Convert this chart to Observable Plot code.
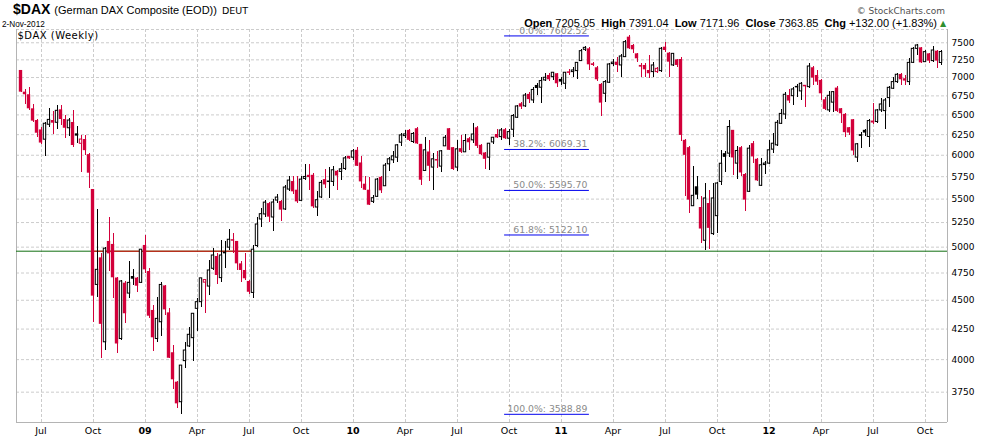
<!DOCTYPE html>
<html><head><meta charset="utf-8">
<script src="https://cdn.jsdelivr.net/npm/d3@7"></script>
<script src="https://cdn.jsdelivr.net/npm/@observablehq/plot@0.6"></script>
<style>
body{margin:0;background:#fff;}
#chart{width:990px;height:438px;overflow:hidden;}
</style></head><body>
<div id="chart"></div>
<script>
// ---- data (weekly bars, week of Monday) ----
const weekStart = "2008-06-02";
const open = [7099,6800,6765,6579,6428,6309,6188,6374,6428,6399,6566,6441,6330,6403,6260,6138,6190,6007,5606,4639,
4895,4140,5057,5027,4703,4167,4655,4560,4717,4702,4658,5017,4764,4410,4167,4308,4630,4389,4055,3825,
3676,3988,4106,4174,4424,4483,4660,4624,4790,4908,4702,4951,4995,5074,5057,4837,4774,4671,4566,5011,
5282,5335,5451,5303,5484,5474,5388,5605,5695,5598,5481,5725,5766,5766,5409,5518,5717,5698,5691,5812,
5805,5839,5987,5971,6059,5909,5665,5598,5470,5525,5743,5642,5893,5940,5971,6151,6232,6303,6160,6324,
6131,5816,6039,5855,5945,5866,6107,6324,6091,5855,6079,6035,6200,6180,6336,6119,6027,5971,6155,6252,
6220,6311,6200,6311,6463,6645,6611,6770,6689,6891,6860,6960,7029,7006,7053,6974,6914,7076,7076,7090,
7232,7396,7410,7193,7137,6905,6778,6928,7193,7217,7170,7289,7584,7460,7337,7170,7170,7099,7076,7076,
7090,7435,7347,7170,7250,7255,6180,6091,5423,5636,5409,5064,5452,5131,5317,5691,6019,6019,6304,5901,
6091,5775,5580,6140,5952,5647,5888,5901,6067,6119,6386,6505,6755,6746,6877,6810,6890,6868,7137,7029,
6960,6698,6558,6660,6855,6580,6507,6337,6438,5972,6250,6304,6221,6421,6409,6558,6549,6720,6846,6937,
7043,6983,6937,7207,7410,7425,7217,7337,7232,7376,7205.05];
const high = [7105,6836,6858,6635,6437,6337,6408,6579,6544,6622,6622,6492,6450,6557,6352,6240,6240,6024,5610,5388,
4934,5000,5307,5141,4710,4680,4670,4855,4780,4710,4980,5118,4790,4454,4527,4658,4635,4430,4113,3830,
3953,4141,4261,4381,4518,4700,4690,4870,4985,4934,5067,5057,5174,5141,5060,4855,4934,4680,5017,5307,
5402,5480,5460,5495,5554,5480,5654,5758,5754,5754,5754,5893,5893,5785,5580,5710,5832,5851,5862,5816,
5901,5987,5990,6071,6091,5987,5747,5740,5543,5732,5747,5901,5979,6039,6131,6262,6300,6320,6280,6340,
6135,6212,6180,6019,6050,6059,6240,6330,6095,6180,6240,6252,6220,6387,6353,6131,6027,6147,6220,6311,
6324,6332,6311,6506,6623,6667,6778,6800,6868,6914,7006,7053,7060,7076,7062,7006,7076,7108,7140,7217,
7396,7445,7430,7217,7155,6914,6960,7203,7260,7289,7328,7534,7602.52,7475,7347,7193,7193,7313,7217,7146,
7435,7509,7362,7347,7260,7289,6188,6099,5870,5748,5525,5673,5591,5673,5680,6059,6040,6430,6304,6099,
6100,5786,6120,6168,5960,5960,5930,6179,6261,6429,6565,6790,6832,6868,6900,6937,6890,7193,7155,7099,
6970,6733,6814,6814,6877,6580,6515,6345,6438,6140,6275,6312,6438,6654,6571,6711,6711,6877,7006,7062,
7053,7029,7265,7425,7475,7435,7386,7347,7445,7386,7391.04];
const low = [6790,6631,6557,6408,6219,6130,5991,6336,6252,6309,6365,6207,6232,6096,6138,5802,5995,5613,4309,4521,
4006,4073,4760,4518,4052,4155,4295,4518,4633,4572,4650,4743,4337,4068,4141,4190,4366,4011,3768,3632,
3589,3928,4100,3988,4228,4439,4386,4540,4774,4641,4665,4796,4971,4934,4774,4665,4680,4548,4518,5000,
5200,5300,5250,5155,5452,5258,5381,5580,5554,5452,5470,5710,5598,5398,5310,5507,5617,5507,5635,5598,
5710,5816,5948,5940,5862,5617,5591,5427,5452,5518,5561,5635,5805,5901,5920,6099,6200,6170,6140,6130,
5654,5805,5691,5598,5850,5793,6099,6055,5824,5805,6019,6027,6051,6147,6079,5995,5832,5824,6127,6200,
6180,6188,6119,6220,6450,6570,6602,6650,6645,6750,6654,6940,6940,6960,6868,6890,6832,7030,7000,6970,
7222,7376,7099,7155,6951,6480,6667,6914,7150,7076,7006,7280,7396,7337,7217,7006,7006,6983,7006,7053,
7076,7362,7006,7155,7140,6160,5525,5346,5416,5500,5038,4966,4972,5121,5138,5647,5800,5968,5760,5718,
5750,5363,5568,5900,5692,5636,5770,5893,6019,6110,6380,6440,6645,6624,6733,6689,6602,6846,6891,6891,
6689,6558,6537,6537,6537,6388,6221,6241,5999,5909,6079,6229,6091,6379,6388,6537,6316,6593,6832,6914,
6891,6891,6891,7193,7313,7193,7207,7193,7217,7122,7171.96];
const close = [6800,6765,6579,6420,6268,6147,6387,6436,6394,6553,6441,6330,6428,6117,6232,6190,6055,5790,4537,4780,
4290,4985,4934,4705,4126,4671,4381,4658,4692,4627,4975,4780,4360,4177,4337,4639,4415,4011,3843,3664,
3953,4073,4202,4381,4483,4700,4684,4774,4918,4727,4918,4934,5074,5060,4837,4774,4696,4572,4975,5230,
5338,5462,5307,5463,5517,5381,5628,5706,5580,5470,5717,5747,5740,5416,5488,5680,5657,5687,5824,5758,
5835,5963,5956,6047,5870,5691,5598,5434,5510,5717,5591,5878,5952,5987,6119,6241,6253,6180,6259,6136,
5710,6059,5870,5952,5935,6047,6212,6059,5832,6071,6035,6172,6151,6252,6107,6007,5952,6139,6212,6210,
6303,6200,6282,6485,6610,6601,6755,6700,6830,6849,6951,6997,6969,7067,6914,6937,7067,7062,7099,7207,
7376,7425,7179,7170,6969,6654,6937,7184,7207,7170,7299,7509,7411,7396,7265,7146,7108,7053,7170,7122,
7411,7386,7217,7337,7170,6241,5999,5489,5536,5543,5183,5507,5190,5507,5673,5900,5975,6345,5968,6051,
5793,5489,6079,5980,5703,5882,5898,6059,6139,6399,6513,6765,6681,6837,6859,6914,6875,7155,6993,6937,
6778,6572,6751,6800,6545,6515,6275,6270,6051,6132,6229,6270,6421,6396,6558,6636,6689,6859,6937,7039,
6969,6951,7207,7410,7460,7207,7362,7232,7386,7231.85,7363.85];
const monthLabels = ["Jul","Oct","09","Apr","Jul","Oct","10","Apr","Jul","Oct","11","Apr","Jul","Oct","12","Apr","Jul","Oct"];
const yTicks = [3750,4000,4250,4500,4750,5000,5250,5500,5750,6000,6250,6500,6750,7000,7250,7500];
const fibPct = ["0.0%","38.2%","50.0%","61.8%","100.0%"];
const fibLevels = [7602.52,6069.31,5595.70,5122.10,3588.89];
const fibSpan = [120.9, 142.1];       // week indices the retracement lines cover
const supportLevel = 4960;
const supportRedSpan = [17.9, 57.9];  // week indices of the red part of the line
const header = {symbol:"$DAX", name:"(German DAX Composite (EOD))", exch:"DEUT", date:"2-Nov-2012",
  open:"7205.05", high:"7391.04", low:"7171.96", close:"7363.85", chg:"+132.00 (+1.83%)"};

// ---- build ----
const RED = "#d2003a", BLACK = "#000000", GRID = "#cccccc", FRAME = "#b4b4b4";
const xDomain = [-1.125, 231.625];
const yDomain = [3531, 7700];
const plotH = 438 - 29 - 16;
const lnPx = Math.log(yDomain[1] / yDomain[0]) / plotH;
const t0 = new Date(weekStart + "T00:00:00Z");
const bars = close.map((c, i) => {
  const o = open[i];
  let top = Math.max(o, c), bot = Math.min(o, c);
  if (Math.log(top / bot) < 1.5 * lnPx) { const m = Math.sqrt(top * bot), f = Math.exp(0.75 * lnPx); top = m * f; bot = m / f; }
  const prev = i ? close[i - 1] : Infinity;
  return {i, date: new Date(+t0 + i * 7 * 864e5), open: o, high: high[i], low: low[i], close: c,
          top, bot, color: c >= prev ? BLACK : RED, hollow: c > o};
});
const tickIdx = [];
bars.forEach((b, i) => { if (i && b.date.getUTCMonth() !== bars[i - 1].date.getUTCMonth() && b.date.getUTCMonth() % 3 === 0) tickIdx.push(i); });
const xTicks = tickIdx.map((i, k) => ({i, label: monthLabels[k], year: /^\d+$/.test(monthLabels[k])}));
const fib = fibLevels.map((v, k) => ({v, label: fibPct[k] + ": " + v.toFixed(2)}));

const chart = Plot.plot({
  width: 990, height: 438, marginLeft: 16, marginRight: 43, marginTop: 29, marginBottom: 16,
  x: {type: "linear", domain: xDomain, axis: null},
  y: {type: "log", domain: yDomain, axis: null},
  color: {type: "identity"},
  style: {fontFamily: "DejaVu Sans", fontSize: "9px", background: "#fff", overflow: "visible"},
  marks: [
    Plot.ruleY(yTicks, {stroke: GRID, strokeDasharray: "3,2"}),
    Plot.ruleX(xTicks, {x: "i", stroke: GRID, strokeDasharray: "3,2", shapeRendering: "crispEdges"}),
    Plot.ruleY([yDomain[1]], {stroke: GRID, strokeDasharray: "3,2"}),
    Plot.ruleX([xDomain[0], xDomain[1]], {stroke: FRAME, shapeRendering: "crispEdges"}),
    Plot.ruleY([yDomain[0]], {stroke: FRAME, shapeRendering: "crispEdges"}),
    Plot.ruleY([supportLevel], {stroke: "#106e10"}),
    Plot.ruleY([supportLevel], {x1: supportRedSpan[0], x2: supportRedSpan[1], stroke: "#e00000"}),
    Plot.ruleY(fib, {y: "v", x1: fibSpan[0], x2: fibSpan[1], stroke: "#0000ee"}),
    Plot.text(fib, {x: fibSpan[1] - 0.5, y: "v", text: "label", textAnchor: "end", lineAnchor: "bottom", dy: -2, fill: "#8a8a8a", fontSize: 9.3}),
    Plot.ruleX(bars, {x: "i", y1: "low", y2: "high", stroke: "color", shapeRendering: "crispEdges"}),
    Plot.rect(bars.filter(b => !b.hollow), {x1: b => b.i - 0.42, x2: b => b.i + 0.42, y1: "bot", y2: "top", fill: "color"}),
    Plot.rect(bars.filter(b => b.hollow), {x1: b => b.i - 0.3, x2: b => b.i + 0.3, y1: "bot", y2: "top", fill: "#fff", stroke: "color", strokeWidth: 1}),
    Plot.axisY(yTicks, {anchor: "right", tickSize: 0, tickPadding: 4, tickFormat: d => String(d), fontSize: 9, fill: "#000", label: null}),
    Plot.text(xTicks.filter(d => !d.year), {x: "i", text: "label", frameAnchor: "bottom", dy: 11.5, lineAnchor: "bottom", fontSize: 9.5, fill: "#000"}),
    Plot.text(xTicks.filter(d => d.year), {x: "i", text: "label", frameAnchor: "bottom", dy: 11.5, lineAnchor: "bottom", fontSize: 9.5, fontWeight: "bold", fill: "#000"})
  ]
});
document.getElementById("chart").appendChild(chart);

// ---- header texts ----
const svg = d3.select(chart);
const g = svg.append("g").attr("text-anchor", "start");
const t1 = g.append("text").attr("x", 13).attr("y", 14).attr("text-anchor", "start").attr("font-family", "Liberation Sans, Arial, sans-serif");
t1.append("tspan").attr("font-weight", "bold").attr("font-size", 14).text(header.symbol);
t1.append("tspan").attr("dx", 4).attr("font-size", 11).text(header.name);
t1.append("tspan").attr("dx", 5).attr("font-size", 9.5).attr("font-family", "DejaVu Sans").text(header.exch);
g.append("text").attr("x", 2).attr("y", 26.5).attr("text-anchor", "start").attr("font-family", "Liberation Sans, Arial").attr("font-size", 8.2).text(header.date);
g.append("text").attr("x", 17.5).attr("y", 39).attr("text-anchor", "start").attr("font-family", "DejaVu Sans").attr("font-size", 10).attr("letter-spacing", 0.5).text("$DAX (Weekly)");
g.append("text").attr("x", 945).attr("y", 14).attr("text-anchor", "end").attr("font-family", "DejaVu Sans").attr("font-size", 9).attr("fill", "#505050").text("\u00a9 StockCharts.com");
const t2 = g.append("text").attr("x", 937).attr("y", 26.5).attr("text-anchor", "end").attr("font-family", "Liberation Sans, Arial").attr("font-size", 11).style("white-space", "pre");
[["Open", header.open], ["High", header.high], ["Low", header.low], ["Close", header.close], ["Chg", header.chg]].forEach(([k, v], n) => {
  t2.append("tspan").attr("font-weight", "bold").text((n ? "  " : "") + k);
  t2.append("tspan").text(" " + v);
});
g.append("text").attr("x", 943).attr("y", 26).attr("text-anchor", "middle").attr("font-size", 8).attr("fill", "#2f8f2f").text("\u25B2");
</script>
</body></html>
